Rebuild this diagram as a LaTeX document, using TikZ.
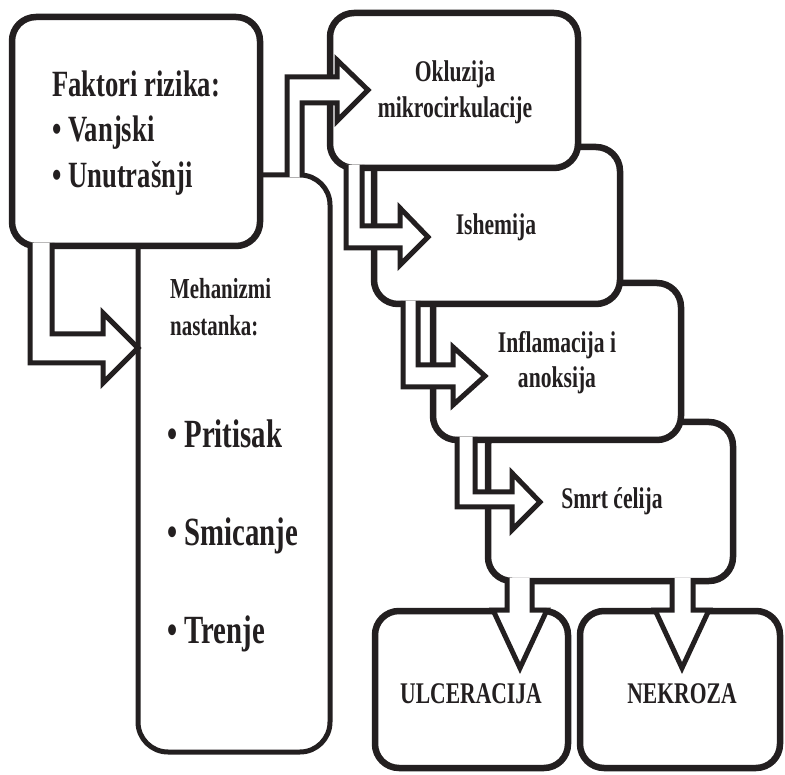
\documentclass[tikz,border=0pt]{standalone}
\usepackage{fontspec}
\setmainfont{Liberation Serif}[FakeStretch=0.72]
\definecolor{ink}{HTML}{231F20}
\begin{document}
\begin{tikzpicture}[x=1pt,y=-1pt,
  box/.style={draw=ink, line width=6.5pt, fill=white, rounded corners=24pt},
  tallbox/.style={box, line width=5pt, rounded corners=30pt},
  barrow/.style={draw=ink, fill=white, line width=5pt, line join=miter},
  lbl/.style={text=ink, font=\bfseries, inner sep=0pt}]
\useasboundingbox (0,0) rectangle (785,775);

% boxes (back to front)
\draw[tallbox] (138,175) rectangle (330,752);
\draw[box] (12,17) rectangle (260,246);
\draw[box] (488,422) rectangle (733,581);
\draw[box] (433,283) rectangle (681,440);
\draw[box] (374,147) rectangle (620,304);
\draw[box] (330,13) rectangle (578,168);
\draw[box] (375,611) rectangle (568,768);
\draw[box] (580,611) rectangle (780,768);

% block arrows
\filldraw[barrow] (30,243) -- (30,363) -- (103,363) -- (103,383) -- (138,348)
  -- (103,313) -- (103,334) -- (52,334) -- (52,243);
\filldraw[barrow] (287,177) -- (287,77) -- (337,77) -- (337,60) -- (368,90)
  -- (337,121) -- (337,103) -- (302,103) -- (302,177);
\filldraw[barrow] (346,165) -- (346,248) -- (400,248) -- (400,265) -- (428,237)
  -- (400,208) -- (400,226) -- (362,226) -- (362,165);
\filldraw[barrow] (403,301) -- (403,387) -- (453,387) -- (453,405) -- (485,376)
  -- (453,347) -- (453,365) -- (418,365) -- (418,301);
\filldraw[barrow] (457,437) -- (457,507) -- (512,507) -- (512,530) -- (540,502)
  -- (512,473) -- (512,492) -- (475,492) -- (475,437);
\filldraw[barrow] (507,578) -- (507,610) -- (493,610) -- (520,668) -- (547,610)
  -- (532,610) -- (532,578);
\filldraw[barrow] (672,578) -- (672,610) -- (655,610) -- (682,668) -- (709,610)
  -- (693,610) -- (693,578);

% texts
\begin{scope}[every node/.style={lbl}]
\node[anchor=base west, font=\bfseries\fontsize{37}{45}\selectfont] (f1) at (52,97) {Faktori rizika:};
\node[anchor=base west, font=\bfseries\fontsize{37}{45}\selectfont] (f2) at (52,142) {\textbullet\ Vanjski};
\node[anchor=base west, font=\bfseries\fontsize{37}{45}\selectfont] (f3) at (52,188) {\textbullet\ Unutrašnji};

\node[anchor=base west, font=\bfseries\fontsize{29}{35}\selectfont] (m1) at (170,299) {Mehanizmi};
\node[anchor=base west, font=\bfseries\fontsize{29}{35}\selectfont] (m2) at (170,336) {nastanka:};
\node[anchor=base west, font=\bfseries\fontsize{40}{48}\selectfont] (m3) at (167,448) {\textbullet\ Pritisak};
\node[anchor=base west, font=\bfseries\fontsize{40}{48}\selectfont] (m4) at (167,546) {\textbullet\ Smicanje};
\node[anchor=base west, font=\bfseries\fontsize{40}{48}\selectfont] (m5) at (167,643) {\textbullet\ Trenje};

\node[anchor=base, font=\bfseries\fontsize{30}{36}\selectfont] (o1) at (455,82) {Okluzija};
\node[anchor=base, font=\bfseries\fontsize{30}{36}\selectfont] (o2) at (455,118) {mikrocirkulacije};
\node[anchor=base, font=\bfseries\fontsize{30}{36}\selectfont] (i1) at (496,235) {Ishemija};
\node[anchor=base, font=\bfseries\fontsize{30}{36}\selectfont] (a1) at (557,353) {Inflamacija i};
\node[anchor=base, font=\bfseries\fontsize{30}{36}\selectfont] (a2) at (557,388) {anoksija};
\node[anchor=base, font=\bfseries\fontsize{30}{36}\selectfont] (s1) at (612,508) {Smrt ćelija};
\node[anchor=base, font=\bfseries\fontsize{30}{36}\selectfont] (u1) at (471,703) {ULCERACIJA};
\node[anchor=base, font=\bfseries\fontsize{30}{36}\selectfont] (n1) at (682,703) {NEKROZA};
\end{scope}
\end{tikzpicture}
\end{document}
